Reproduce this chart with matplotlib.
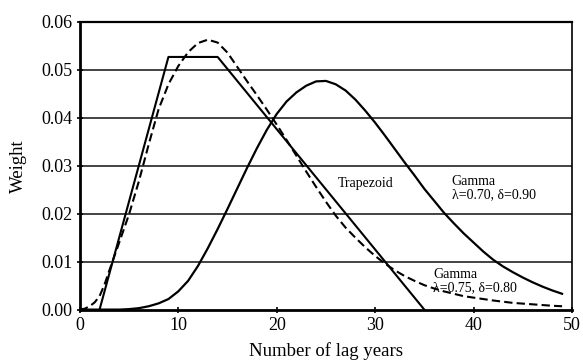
import matplotlib.pyplot as plt

# Trapezoid lag weights
trap_x = [2, 9, 14, 35]
trap_y = [0.0, 0.0527, 0.0527, 0.0]

# Gamma lambda=0.75, delta=0.80 (dashed)
g1_x = [0, 0.5, 1, 1.5, 2, 2.5, 3, 4, 5, 6, 7, 8, 9, 10, 11, 12, 13, 14, 15,
        16, 17, 18, 19, 20, 21, 22, 23, 24, 25, 26, 27, 28, 29, 30, 31, 32, 33,
        34, 35, 36, 37, 38, 39, 40, 42, 44, 46, 48, 49]
g1_y = [0.0, 0.0002, 0.0007, 0.0015, 0.0028, 0.0052, 0.0082, 0.0140, 0.0199,
        0.0268, 0.0345, 0.0418, 0.0470, 0.0508, 0.0537, 0.0556, 0.0563, 0.0557,
        0.0536, 0.0506, 0.0476, 0.0447, 0.0417, 0.0386, 0.0354, 0.0321, 0.0288,
        0.0256, 0.0225, 0.0196, 0.0171, 0.0150, 0.0130, 0.0112, 0.0096, 0.0082,
        0.0070, 0.0060, 0.0051, 0.0044, 0.0038, 0.0033, 0.0028, 0.0025, 0.0019,
        0.0014, 0.0011, 0.0008, 0.0007]

# Gamma lambda=0.70, delta=0.90 (solid)
g2_x = [0, 4, 5, 6, 7, 8, 9, 10, 11, 12, 13, 14, 15, 16, 17, 18, 19, 20, 21,
        22, 23, 24, 25, 26, 27, 28, 29, 30, 31, 32, 33, 34, 35, 36, 37, 38, 39,
        40, 41, 42, 43, 44, 45, 46, 47, 48, 49]
g2_y = [0.0, 0.0, 0.0001, 0.0003, 0.0007, 0.0013, 0.0022, 0.0038, 0.0060,
        0.0091, 0.0128, 0.0168, 0.0210, 0.0253, 0.0296, 0.0337, 0.0375, 0.0408,
        0.0434, 0.0453, 0.0467, 0.0476, 0.0477, 0.0470, 0.0457, 0.0438, 0.0415,
        0.0390, 0.0363, 0.0335, 0.0307, 0.0280, 0.0252, 0.0227, 0.0202, 0.0180,
        0.0159, 0.0140, 0.0121, 0.0104, 0.0090, 0.0078, 0.0067, 0.0057, 0.0048,
        0.0040, 0.0033]

x_ticks = [0, 10, 20, 30, 40, 50]
y_ticks = [0.00, 0.01, 0.02, 0.03, 0.04, 0.05, 0.06]

plt.rcParams['font.family'] = ['Liberation Serif', 'DejaVu Serif']

fig = plt.figure(figsize=(5.83, 3.6), dpi=100)
ax = fig.add_axes([0.137, 0.140, 0.844, 0.799])

for yv in y_ticks[1:]:
    ax.axhline(yv, color='#222222', lw=1.2, zorder=1)

ax.plot(trap_x, trap_y, color='black', lw=1.5, zorder=3)
ax.plot(g1_x, g1_y, color='black', lw=1.5, linestyle=(0, (4, 2)), zorder=3)
ax.plot(g2_x, g2_y, color='black', lw=1.6, zorder=3)

ax.text(29.0, 0.0264, 'Trapezoid', fontsize=10, ha='center', va='center')
ax.text(37.8, 0.0254, 'Gamma\nλ=0.70, δ=0.90', fontsize=10, ha='left',
        va='center', linespacing=1.05)
ax.text(35.9, 0.0060, 'Gamma\nλ=0.75, δ=0.80', fontsize=10, ha='left',
        va='center', linespacing=1.0)

ax.set_xlim(0, 50)
ax.set_ylim(0, 0.06)
ax.set_xticks(x_ticks)
ax.set_yticks(y_ticks)
ax.set_yticklabels([f'{v:.2f}' for v in y_ticks])
ax.tick_params(labelsize=13, direction='inout', length=4, width=1.2)
ax.set_xlabel('Number of lag years', fontsize=13.5, labelpad=6)
ax.set_ylabel('Weight', fontsize=13.5, labelpad=10)

ax.spines['left'].set_linewidth(2)
ax.spines['bottom'].set_linewidth(2)
ax.spines['right'].set_linewidth(1.2)
ax.spines['top'].set_linewidth(1.6)

fig.savefig('out.png', dpi=100)
